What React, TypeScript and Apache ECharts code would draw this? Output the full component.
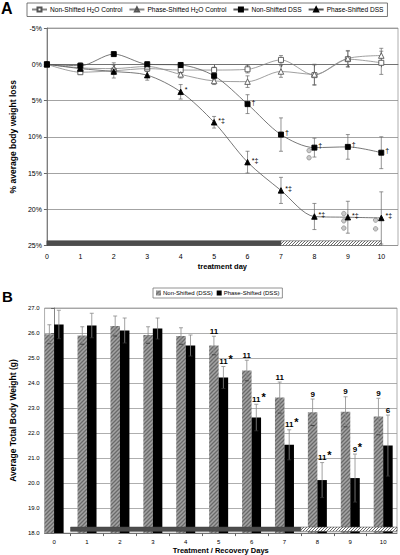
import React, { useEffect, useRef } from 'react';
import * as echarts from 'echarts';

// ---------- Panel A data ----------
const days = [0, 1, 2, 3, 4, 5, 6, 7, 8, 9, 10];
const nonShiftedH2O = [0, 1.1, 0.9, 0.6, 0.8, 0.8, 0.7, -0.6, 1.5, -0.7, -0.2];
const nonShiftedH2OErr = [0, 0.3, 0.4, 0.4, 0.4, 0.4, 0.5, 0.6, 1.4, 1.1, 1.6];
const phaseShiftedH2O = [0, 0.5, 0.6, 0.3, 1.4, 2.3, 2.4, 1.0, 1.4, -0.8, -1.2];
const phaseShiftedH2OErr = [0, 0.3, 0.8, 0.6, 0.5, 0.5, 0.8, 0.8, 1.4, 1.1, 1.0];
const nonShiftedDSS = [0, 0.2, -1.4, 0, 0.1, 1.6, 5.5, 9.7, 11.5, 11.4, 12.2];
const nonShiftedDSSErr = [0, 0.4, 0.3, 0.3, 0.3, 0.5, 1.3, 2.3, 1.3, 1.7, 2.2];
const phaseShiftedDSS = [0, 0.6, 1.0, 1.5, 3.8, 8.0, 13.5, 17.4, 21.0, 21.1, 21.2];
const phaseShiftedDSSErr = [0, 0.3, 0.9, 0.7, 1.0, 0.8, 1.5, 1.8, 1.8, 2.2, 3.6];
const nonShiftedDSSMarks = ['', '', '', '', '', '', '†', '†', '†', '†', '†'];
const phaseShiftedDSSMarks = ['', '', '', '', '*', '*‡', '*‡', '*‡', '*‡', '*‡', '*‡'];
const deadMice = [
  [7.84, 11.9], [7.84, 12.9],
  [8.88, 20.6], [8.88, 21.6], [8.88, 22.6],
  [9.83, 21.5], [9.83, 22.7],
];
const yTicksA = [-5, 0, 5, 10, 15, 20, 25];
const periodsA = [
  [0, 7, 24.35, 25, 0],
  [7, 10, 24.35, 25, 1],
];

// ---------- Panel B data ----------
const nonShiftedWeight = [25.95, 25.9, 26.28, 25.92, 25.88, 25.5, 24.5, 23.42, 22.83, 22.85, 22.66];
const nonShiftedWeightErr = [0.38, 0.35, 0.4, 0.33, 0.33, 0.37, 0.41, 0.62, 0.53, 0.6, 0.73];
const phaseShiftedWeight = [26.34, 26.3, 26.1, 26.18, 25.5, 24.22, 22.62, 21.53, 20.12, 20.2, 21.5];
const phaseShiftedWeightErr = [0.57, 0.49, 0.5, 0.42, 0.42, 0.44, 0.53, 0.6, 0.7, 0.96, 1.22];
const nonShiftedN = ['', '', '', '', '', '11', '11', '11', '9', '9', '9'];
const phaseShiftedN = ['', '', '', '', '', '11', '11', '11', '11', '9', '6'];
const phaseShiftedStar = [false, false, false, false, false, true, true, true, true, true, false];
const boundariesB = [0.5, 1.5, 2.5, 3.5, 4.5, 5.5, 6.5, 7.5, 8.5, 9.5];
const periodsB = [
  [0.5, 7.5, 18.07, 18.24, 0],
  [7.5, 10.42, 18.07, 18.24, 1],
];

const FONT = '"Liberation Sans", Arial, sans-serif';
const BAR_W = 9.5;

function hatch(bg: string, fg: string, size: number, lw: number) {
  const c = document.createElement('canvas');
  c.width = size;
  c.height = size;
  const ctx = c.getContext('2d')!;
  ctx.fillStyle = bg;
  ctx.fillRect(0, 0, size, size);
  ctx.strokeStyle = fg;
  ctx.lineWidth = lw;
  ctx.beginPath();
  ctx.moveTo(0, size);
  ctx.lineTo(size, 0);
  ctx.moveTo(-size / 2, size / 2);
  ctx.lineTo(size / 2, -size / 2);
  ctx.moveTo(size / 2, size * 1.5);
  ctx.lineTo(size * 1.5, size / 2);
  ctx.stroke();
  return { image: c, repeat: 'repeat' } as any;
}

function errSeriesA(vals: number[], errs: number[], z: number) {
  return {
    type: 'custom',
    xAxisIndex: 0,
    yAxisIndex: 0,
    z,
    silent: true,
    data: days.map((d, i) => [d, vals[i], errs[i]]),
    encode: { x: 0, y: 1 },
    renderItem: (params: any, api: any) => {
      const x = api.value(0);
      const y = api.value(1);
      const e = api.value(2);
      if (!e) return null;
      const a = api.coord([x, y - e]);
      const b = api.coord([x, y + e]);
      const st = { stroke: '#666', lineWidth: 0.7 };
      return {
        type: 'group',
        children: [
          { type: 'line', shape: { x1: a[0], y1: a[1], x2: b[0], y2: b[1] }, style: st },
          { type: 'line', shape: { x1: a[0] - 2, y1: a[1], x2: a[0] + 2, y2: a[1] }, style: st },
          { type: 'line', shape: { x1: b[0] - 2, y1: b[1], x2: b[0] + 2, y2: b[1] }, style: st },
        ],
      };
    },
  };
}

function lineSeries(
  name: string, vals: number[], marks: string[] | null, symbol: string,
  fill: string, stroke: string, lineColor: string, size: number, z: number,
) {
  const lbl = { position: 'right', distance: 1, fontSize: 7, color: '#000', offset: [0, -2], fontFamily: FONT };
  return {
    name,
    type: 'line',
    xAxisIndex: 0,
    yAxisIndex: 0,
    smooth: 0.3,
    symbol,
    symbolSize: size,
    showAllSymbol: true,
    z,
    lineStyle: { color: lineColor, width: 0.8 },
    itemStyle: { color: fill, borderColor: stroke, borderWidth: 0.9 },
    label: { show: false, ...lbl },
    data: vals.map((v, i) =>
      marks && marks[i]
        ? { value: [days[i], v], label: { show: true, formatter: marks[i], ...lbl } }
        : { value: [days[i], v] },
    ),
  };
}

function bandSeries(xi: number, periods: number[][], dark: string, stripe: any, z: number) {
  return {
    type: 'custom',
    xAxisIndex: xi,
    yAxisIndex: xi,
    z,
    silent: true,
    data: periods,
    encode: { x: [0, 1], y: [2, 3] },
    renderItem: (params: any, api: any) => {
      const p1 = api.coord([api.value(0), api.value(2)]);
      const p2 = api.coord([api.value(1), api.value(3)]);
      const kind = api.value(4);
      const x = Math.min(p1[0], p2[0]);
      const y = Math.min(p1[1], p2[1]);
      return {
        type: 'rect',
        shape: { x, y, width: Math.abs(p2[0] - p1[0]), height: Math.abs(p2[1] - p1[1]) },
        style: kind === 0 ? { fill: dark, stroke: '#444', lineWidth: 0.6 } : { fill: stripe, stroke: '#555', lineWidth: 0.6 },
      };
    },
  };
}

function errSeriesB(vals: number[], errs: number[], labels: string[], stars: boolean[] | null, side: number) {
  return {
    type: 'custom',
    xAxisIndex: 1,
    yAxisIndex: 1,
    z: 4,
    silent: true,
    data: days.map((d, i) => [d, vals[i], errs[i]]),
    encode: { x: 0, y: 1 },
    renderItem: (params: any, api: any) => {
      const i = params.dataIndex;
      const x = api.value(0);
      const y = api.value(1);
      const e = api.value(2);
      const a = api.coord([x, y + e]);
      const b = api.coord([x, y - e]);
      const cx = a[0] + side * BAR_W / 2;
      const st = { stroke: '#8a8a8a', lineWidth: 0.8 };
      const children: any[] = [
        { type: 'line', shape: { x1: cx, y1: a[1], x2: cx, y2: b[1] }, style: st },
        { type: 'line', shape: { x1: cx - 2, y1: a[1], x2: cx + 2, y2: a[1] }, style: st },
        { type: 'line', shape: { x1: cx - 2, y1: b[1], x2: cx + 2, y2: b[1] }, style: { stroke: '#333', lineWidth: 0.8 } },
      ];
      const lab = labels[i];
      if (lab) {
        children.push({
          type: 'text',
          x: cx,
          y: a[1] - 1,
          style: { text: lab, fill: '#000', fontSize: 8, fontWeight: 'bold', fontFamily: FONT, align: 'center', verticalAlign: 'bottom' },
        });
        if (stars && stars[i]) {
          children.push({
            type: 'text',
            x: cx + lab.length * 2.3 + 0.5,
            y: a[1] - 2,
            style: { text: '*', fill: '#000', fontSize: 11, fontWeight: 'bold', fontFamily: FONT, align: 'left', verticalAlign: 'bottom' },
          });
        }
      }
      return { type: 'group', children };
    },
  };
}

function buildOption() {
  const grayHatch = hatch('#a3a3a3', '#6a6a6a', 4, 1.3);
  const whiteHatch = hatch('#ffffff', '#444444', 3, 0.8);
  const axisTxt = { color: '#000', fontFamily: FONT };
  const nameA = ['Non-Shifted H2O Control', 'Phase-Shifted H2O Control', 'Non-Shifted DSS', 'Phase-Shifted DSS'];
  const nameB = ['Non-Shifted (DSS)', 'Phase-Shifted (DSS)'];
  return {
    animation: false,
    backgroundColor: '#ffffff',
    textStyle: { fontFamily: FONT },
    title: [
      { text: 'A', left: 1, top: 0, padding: 0, textStyle: { fontSize: 16, fontWeight: 'bold', color: '#000', fontFamily: FONT } },
      { text: 'B', left: 2, top: 289, padding: 0, textStyle: { fontSize: 15, fontWeight: 'bold', color: '#000', fontFamily: FONT } },
    ],
    legend: [
      {
        data: nameA,
        left: 27,
        top: 3,
        width: 372,
        padding: [3, 4],
        itemGap: 6,
        itemWidth: 15,
        itemHeight: 5,
        borderColor: '#555',
        borderWidth: 0.8,
        formatter: (n: string) => n.replace('H2O', 'H{sub|2}O'),
        textStyle: { fontSize: 6.6, color: '#000', fontFamily: FONT, padding: [0, 0, 0, -2], rich: { sub: { fontSize: 5, padding: [3, 0, 0, 0], fontFamily: FONT, color: '#000' } } },
      },
      {
        data: nameB.map((n) => ({ name: n, icon: 'rect' })),
        left: 153,
        top: 288,
        padding: [2, 3],
        itemGap: 4,
        itemWidth: 5,
        itemHeight: 5,
        borderColor: '#777',
        borderWidth: 0.8,
        textStyle: { fontSize: 6, color: '#000', fontFamily: FONT, padding: [0, 0, 0, -3] },
      },
    ],
    grid: [
      { left: 37, right: 2, top: 28, bottom: 309.5, show: true, borderColor: '#999', borderWidth: 0.8 },
      { left: 36, right: 3, top: 308, bottom: 20, show: true, borderColor: '#999', borderWidth: 0.8 },
    ],
    xAxis: [
      {
        type: 'value',
        gridIndex: 0,
        min: 0,
        max: 10.5,
        name: 'treatment day',
        nameLocation: 'middle',
        nameGap: 17,
        nameTextStyle: { fontSize: 7.5, fontWeight: 'bold', ...axisTxt },
        axisLine: { show: true, lineStyle: { color: '#666', width: 0.8 } },
        axisTick: { show: true, length: 3, customValues: days, lineStyle: { color: '#666' } },
        axisLabel: { fontSize: 7, margin: 7, customValues: days, ...axisTxt },
        splitLine: { show: false },
      },
      {
        type: 'value',
        gridIndex: 1,
        min: -0.29,
        max: 10.42,
        name: 'Treatment / Recovery Days',
        nameLocation: 'middle',
        nameGap: 12,
        nameTextStyle: { fontSize: 7.5, fontWeight: 'bold', ...axisTxt },
        axisLine: { show: true, lineStyle: { color: '#666', width: 0.8 } },
        axisTick: { show: true, length: 3, customValues: boundariesB, lineStyle: { color: '#666' } },
        axisLabel: { fontSize: 6, margin: 6, customValues: days, ...axisTxt },
        splitLine: { show: false },
      },
    ],
    yAxis: [
      {
        type: 'value',
        gridIndex: 0,
        inverse: true,
        min: -5,
        max: 25,
        interval: 5,
        name: '% average body weight loss',
        nameLocation: 'middle',
        nameRotate: 90,
        nameGap: 27,
        nameTextStyle: { fontSize: 8.5, fontWeight: 'bold', ...axisTxt },
        axisLine: { show: true, lineStyle: { color: '#666', width: 0.8 } },
        axisTick: { show: true, length: 3, lineStyle: { color: '#666' } },
        axisLabel: { fontSize: 7, margin: 5, formatter: (v: number) => (yTicksA.includes(v) ? `${v}%` : ''), ...axisTxt },
        splitLine: { show: true, lineStyle: { color: '#8c8c8c', width: 0.8 } },
      },
      {
        type: 'value',
        gridIndex: 1,
        min: 18,
        max: 27,
        interval: 1,
        name: 'Average Total Body Weight (g)',
        nameLocation: 'middle',
        nameRotate: 90,
        nameGap: 25,
        nameTextStyle: { fontSize: 8.5, fontWeight: 'bold', ...axisTxt },
        axisLine: { show: true, lineStyle: { color: '#666', width: 0.8 } },
        axisTick: { show: true, length: 3, lineStyle: { color: '#666' } },
        axisLabel: { fontSize: 6, margin: 5, formatter: (v: number) => v.toFixed(1), ...axisTxt },
        splitLine: { show: true, lineStyle: { color: '#999', width: 0.8 } },
      },
    ],
    series: [
      bandSeries(0, periodsA, '#4d4d4d', whiteHatch, 1),
      errSeriesA(nonShiftedH2O, nonShiftedH2OErr, 2),
      errSeriesA(phaseShiftedH2O, phaseShiftedH2OErr, 2),
      errSeriesA(nonShiftedDSS, nonShiftedDSSErr, 2),
      errSeriesA(phaseShiftedDSS, phaseShiftedDSSErr, 2),
      lineSeries(nameA[0], nonShiftedH2O, null, 'rect', '#ffffff', '#555', '#888', 5, 5),
      lineSeries(nameA[1], phaseShiftedH2O, null, 'triangle', '#ffffff', '#555', '#888', 5.5, 5),
      lineSeries(nameA[2], nonShiftedDSS, nonShiftedDSSMarks, 'rect', '#000', '#000', '#555', 5, 6),
      lineSeries(nameA[3], phaseShiftedDSS, phaseShiftedDSSMarks, 'triangle', '#000', '#000', '#555', 5.5, 6),
      {
        type: 'scatter',
        xAxisIndex: 0,
        yAxisIndex: 0,
        symbol: 'circle',
        symbolSize: 4.5,
        z: 4,
        itemStyle: { color: '#bdbdbd', borderColor: '#777', borderWidth: 0.7 },
        data: deadMice,
      },
      {
        name: nameB[0],
        type: 'bar',
        xAxisIndex: 1,
        yAxisIndex: 1,
        barWidth: BAR_W,
        barGap: '0%',
        z: 2,
        itemStyle: { color: grayHatch },
        data: days.map((d, i) => [d, nonShiftedWeight[i]]),
      },
      {
        name: nameB[1],
        type: 'bar',
        xAxisIndex: 1,
        yAxisIndex: 1,
        barWidth: BAR_W,
        barGap: '0%',
        z: 2,
        itemStyle: { color: '#000' },
        data: days.map((d, i) => [d, phaseShiftedWeight[i]]),
      },
      errSeriesB(nonShiftedWeight, nonShiftedWeightErr, nonShiftedN, null, -1),
      errSeriesB(phaseShiftedWeight, phaseShiftedWeightErr, phaseShiftedN, phaseShiftedStar, 1),
      bandSeries(1, periodsB, '#4d4d4d', whiteHatch, 5),
    ],
  };
}

export default function App() {
  const ref = useRef<HTMLDivElement>(null);
  useEffect(() => {
    const chart = echarts.init(ref.current!, null, { renderer: 'svg' });
    chart.setOption(buildOption() as any);
    return () => chart.dispose();
  }, []);
  return (
    <div
      ref={ref}
      style={{ position: 'fixed', left: 0, top: 0, width: 400, height: 555, background: '#fff' }}
    />
  );
}
